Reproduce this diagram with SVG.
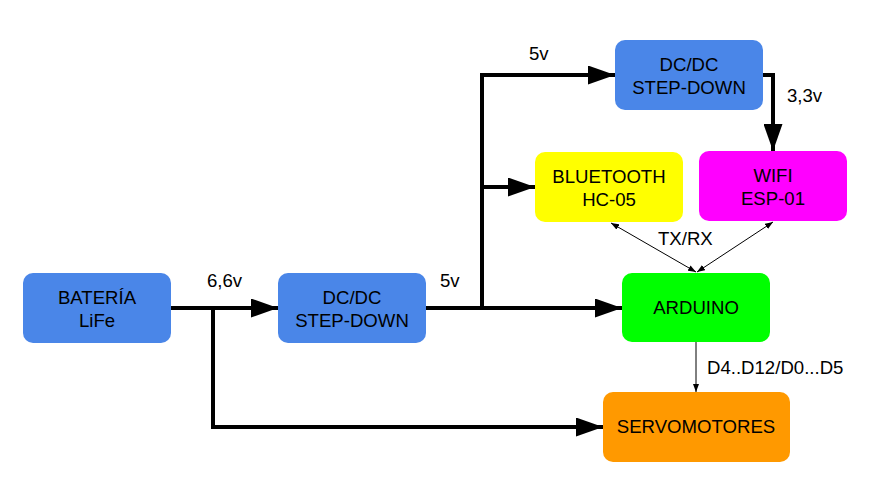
<svg xmlns="http://www.w3.org/2000/svg" width="893" height="495" viewBox="0 0 893 495">
<defs>
<marker id="big" viewBox="0 0 27 19" refX="27" refY="9.5" markerWidth="27" markerHeight="19" markerUnits="userSpaceOnUse" orient="auto"><path d="M0,0 L27,9.5 L0,19 Z" fill="#000"/></marker>
<marker id="small" viewBox="0 0 8 6" refX="8" refY="3" markerWidth="8" markerHeight="6" markerUnits="userSpaceOnUse" orient="auto-start-reverse"><path d="M0,0 L8,3 L0,6 Z" fill="#000"/></marker>
</defs>
<style>
text{font-family:"Liberation Sans",Arial,sans-serif;font-size:18.6px;fill:#000}
.c{text-anchor:middle}
.thick{fill:none;stroke:#000;stroke-width:4}
.thin{fill:none;stroke:#000;stroke-width:1}
</style>
<rect width="893" height="495" fill="#fff"/>
<g id="connectors">
<path class="thick" d="M171,308 H278" marker-end="url(#big)"/>
<path class="thick" d="M213,308 V427 H603" marker-end="url(#big)"/>
<path class="thick" d="M426,308 H482 V75 H615" marker-end="url(#big)"/>
<path class="thick" d="M482,308 H622" marker-end="url(#big)"/>
<path class="thick" d="M482,187 H535" marker-end="url(#big)"/>
<path class="thick" d="M763,75 H773 V151" marker-end="url(#big)"/>
<path class="thin" d="M611,223 L696,272" marker-start="url(#small)" marker-end="url(#small)"/>
<path class="thin" d="M773,222 L697,272" marker-start="url(#small)" marker-end="url(#small)"/>
<path class="thin" d="M696,342 V392" marker-end="url(#small)"/>
<text x="207" y="287">6,6v</text>
<text x="440" y="287">5v</text>
<text x="529" y="60">5v</text>
<text x="787" y="102">3,3v</text>
<text x="658" y="245">TX/RX</text>
<text x="707" y="374">D4..D12/D0...D5</text>
</g>
<g id="bateria"><rect x="23" y="273" width="148" height="70" rx="10" fill="#4a86e8"/><text class="c" x="97" y="304">BATERÍA</text><text class="c" x="97" y="327">LiFe</text></g>
<g id="dcdc1"><rect x="278" y="273" width="148" height="70" rx="10" fill="#4a86e8"/><text class="c" x="352" y="304">DC/DC</text><text class="c" x="352" y="327">STEP-DOWN</text></g>
<g id="dcdc2"><rect x="615" y="40" width="148" height="70" rx="10" fill="#4a86e8"/><text class="c" x="689" y="71">DC/DC</text><text class="c" x="689" y="94">STEP-DOWN</text></g>
<g id="bluetooth"><rect x="535" y="152" width="148" height="70" rx="10" fill="#ffff00"/><text class="c" x="609" y="183">BLUETOOTH</text><text class="c" x="609" y="206">HC-05</text></g>
<g id="wifi"><rect x="699" y="151" width="148" height="70" rx="10" fill="#ff00ff"/><text class="c" x="773" y="182">WIFI</text><text class="c" x="773" y="205">ESP-01</text></g>
<g id="arduino"><rect x="622" y="273" width="148" height="69" rx="10" fill="#00ff00"/><text class="c" x="696" y="314">ARDUINO</text></g>
<g id="servomotores"><rect x="603" y="392" width="187" height="70" rx="10" fill="#ff9900"/><text class="c" x="696" y="433">SERVOMOTORES</text></g>
</svg>
